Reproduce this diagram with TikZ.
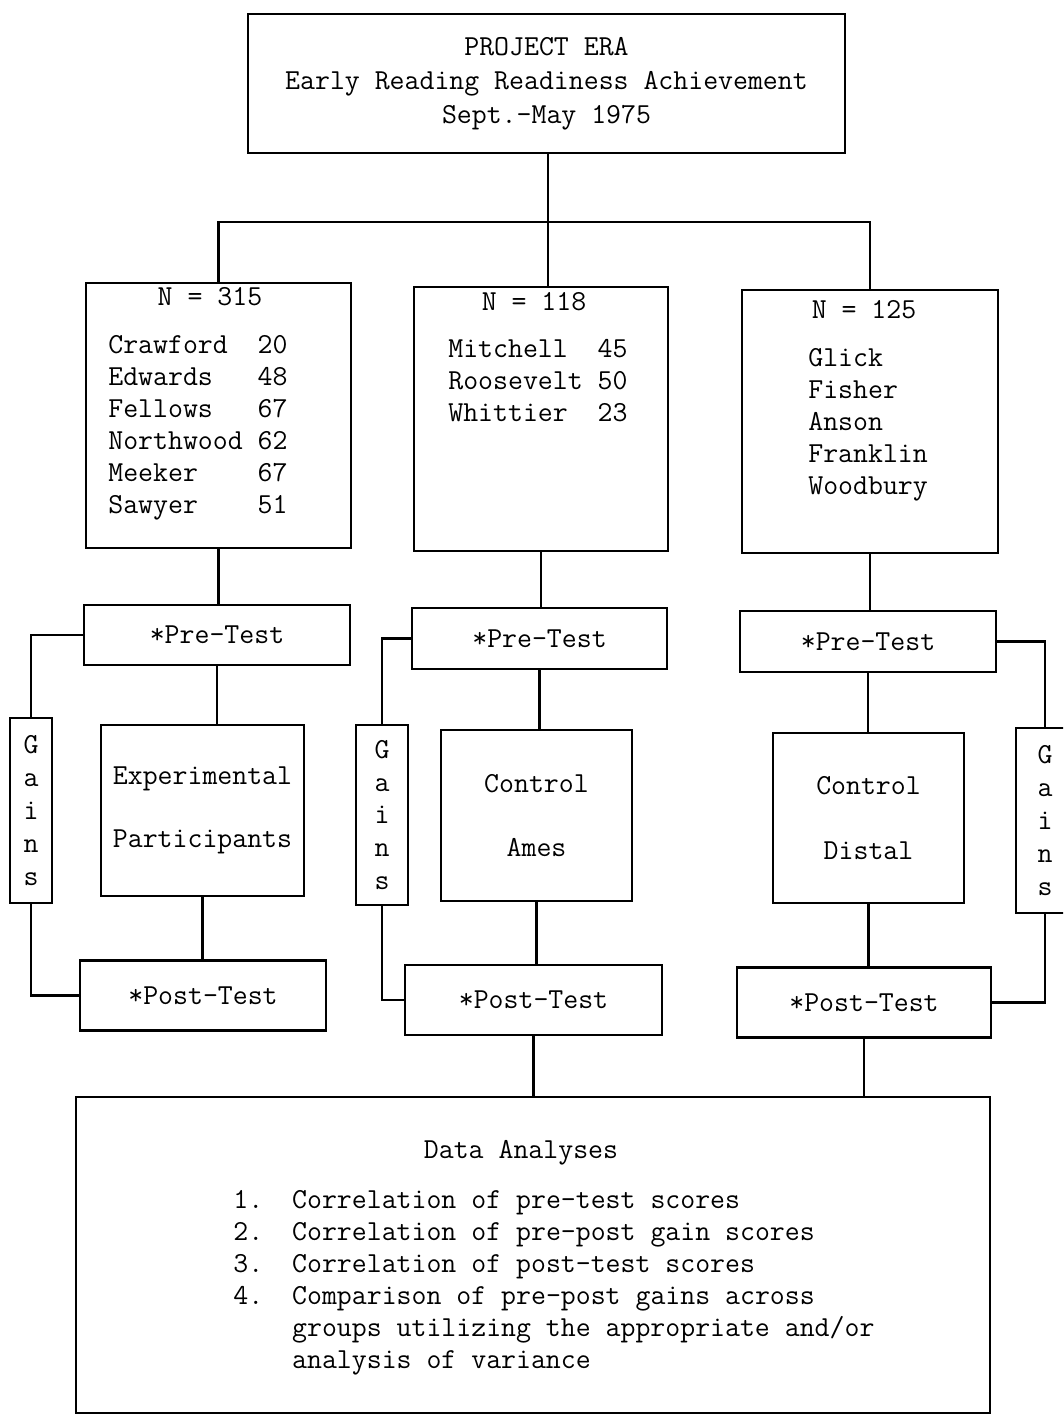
\documentclass[tikz,border=0pt]{standalone}
\newcommand{\typed}{\ttfamily\fontsize{16.5}{18.2}\selectfont}
\tikzset{
  box/.style={draw, line width=1.4pt, inner sep=0pt, font=\typed, align=center},
  gainsbox/.style={font=\ttfamily\fontsize{16.5}{18.7}\selectfont},
  txt/.style={inner sep=0pt, font=\typed},
  link/.style={line width=1.4pt},
}
\begin{document}
\begin{tikzpicture}[x=0.02cm, y=-0.02cm]
\path[use as bounding box] (0,0) rectangle (1063,1418);
\clip (0,0) rectangle (1063,1418);

\node[box, minimum width=11.94cm, minimum height=2.78cm] (title) at (546.5,83.5)
  {PROJECT ERA\\[1.1pt]Early Reading Readiness Achievement\\[1.1pt]Sept.-May 1975};

\foreach \i/\x/\y/\w/\h in {1/218.5/415.5/5.3cm/5.3cm, 2/541/419/5.08cm/5.28cm, 3/870/421.5/5.12cm/5.26cm}
  \node[box, minimum width=\w, minimum height=\h] (sch\i) at (\x,\y) {};
\node[txt] (n1) at (210,297) {N = 315};
\node[txt] (n2) at (534,302) {N = 118};
\node[txt] (n3) at (864,310) {N = 125};
\node[txt, anchor=west] (list1) at (108,427.5) {\begin{tabular}{@{}l@{\ }l@{}}
  Crawford & 20\\ Edwards & 48\\ Fellows & 67\\ Northwood & 62\\ Meeker & 67\\ Sawyer & 51
  \end{tabular}};
\node[txt, anchor=west] (list2) at (448,383) {\begin{tabular}{@{}l@{\ }l@{}}
  Mitchell & 45\\ Roosevelt & 50\\ Whittier & 23
  \end{tabular}};
\node[txt, anchor=west] (list3) at (808,424.5) {\begin{tabular}{@{}l@{}}
  Glick\\ Fisher\\ Anson\\ Franklin\\ Woodbury
  \end{tabular}};

\foreach \i/\x/\y/\w in {1/217/635/5.32cm, 2/539.5/638.5/5.1cm, 3/868/641.5/5.12cm}
  \node[box, minimum width=\w, minimum height=1.21cm] (pre\i) at (\x,\y) {*Pre-Test};
\node[box, minimum width=4.06cm, minimum height=3.42cm] (grp1) at (202.5,810.5) {Experimental\\[17.5pt]Participants};
\node[box, minimum width=3.82cm, minimum height=3.42cm] (grp2) at (536.5,815.5) {Control\\[18.6pt]Ames};
\node[box, minimum width=3.82cm, minimum height=3.4cm] (grp3) at (868.5,818) {Control\\[18.6pt]Distal};
\foreach \i/\x/\y/\w in {1/203/995.5/4.92cm, 2/533.5/1000/5.14cm, 3/864/1002.5/5.08cm}
  \node[box, minimum width=\w, minimum height=1.4cm] (post\i) at (\x,\y) {*Post-Test};
\foreach \i/\x/\y/\w/\h in {1/31/810.5/0.84cm/3.7cm, 2/382/815/1.04cm/3.6cm, 3/1045/820.5/1.16cm/3.7cm}
  \node[box, gainsbox, minimum width=\w, minimum height=\h] (gains\i) at (\x,\y) {G\\a\\i\\n\\s};

\node[box, minimum width=18.28cm, minimum height=6.32cm] (data) at (533,1255) {};
\node[txt] (dtitle) at (521,1153) {Data Analyses};
\node[txt, anchor=west] (dlist) at (233,1282.5) {\begin{tabular}{@{}l@{\quad}l@{}}
  1. & Correlation of pre-test scores\\
  2. & Correlation of pre-post gain scores\\
  3. & Correlation of post-test scores\\
  4. & Comparison of pre-post gains across\\
     & groups utilizing the appropriate and/or\\
     & analysis of variance
  \end{tabular}};

\coordinate (bus) at (548,222);
\draw[link] (title.south -| bus) -- (bus |- sch2.north);
\draw[link] (sch1.north) |- (bus) -| (sch3.north);
\foreach \i in {1,2,3}{
  \draw[link] (sch\i.south) -- (sch\i.south |- pre\i.north);
  \draw[link] (pre\i.south) -- (pre\i.south |- grp\i.north);
  \draw[link] (grp\i.south) -- (grp\i.south |- post\i.north);
}
\foreach \i/\s in {1/west,2/west,3/east}
  \draw[link] (pre\i.\s) -| (gains\i.north) (gains\i.south) |- (post\i.\s);
\draw[link] (post2.south) -- (post2.south |- data.north);
\draw[link] (post3.south) -- (post3.south |- data.north);
\end{tikzpicture}
\end{document}
